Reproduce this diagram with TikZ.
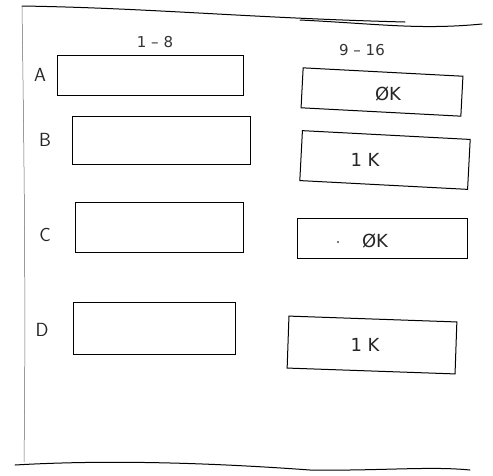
\documentclass[tikz,border=0pt]{standalone}
\usepackage{fontspec}
\setmainfont{DejaVu Sans}
\begin{document}
\begin{tikzpicture}[x=1pt,y=-1pt,
  slot/.style={draw=black,line width=1pt,rectangle,inner sep=0pt},
  lbl/.style={font=\fontsize{19}{19}\selectfont\sffamily,text=black!85},
  hdr/.style={font=\fontsize{15}{15}\selectfont,text=black!80},
  val/.style={font=\fontsize{18}{18}\selectfont,text=black!85},
  frame/.style={line width=1pt,line cap=round}]
\useasboundingbox (0,0) rectangle (493,475);
% frame
\draw[frame] (22,6) .. controls (150,8) and (250,18) .. (405,22);
\draw[frame] (300,20) .. controls (380,24) and (420,30) .. (482,24);
\draw[line width=0.5pt,black!60] (22,6) .. controls (24,150) and (26,300) .. (24,462);
\draw[frame] (15,465) .. controls (100,460) and (200,462) .. (310,470) .. controls (380,471) and (430,466) .. (470,470);
% left column
\node[hdr] (h1) at (155,42) {1 -- 8};
\node[slot,minimum width=186pt,minimum height=40pt] (a1) at (150,75) {};
\node[slot,minimum width=178pt,minimum height=48pt] (b1) at (161,140) {};
\node[slot,minimum width=168pt,minimum height=50pt] (c1) at (159,227) {};
\node[slot,minimum width=162pt,minimum height=52pt] (d1) at (154,328) {};
\node[lbl] (la) at (40,75) {A};
\node[lbl] (lb) at (45,140) {B};
\node[lbl] (lc) at (45,235) {C};
\node[lbl] (ld) at (42,330) {D};
% right column
\node[hdr] (h2) at (362,50) {9 -- 16};
\node[slot,minimum width=160pt,minimum height=40pt,rotate=-3] (a2) at (382,92) {};
\node[slot,minimum width=168pt,minimum height=50pt,rotate=-3] (b2) at (385,160) {};
\node[slot,minimum width=170pt,minimum height=40pt] (c2) at (382,238) {};
\node[slot,minimum width=168pt,minimum height=52pt,rotate=-2] (d2) at (372,345) {};
\node[val] (va) at (388,94) {ØK};
\node[val] (vb) at (365,160) {1 K};
\node[val] (vc) at (375,241) {ØK};
\node[val] (vd) at (365,345) {1 K};
\fill[black!70] (338,242) circle (1.2pt);
\end{tikzpicture}
\end{document}
